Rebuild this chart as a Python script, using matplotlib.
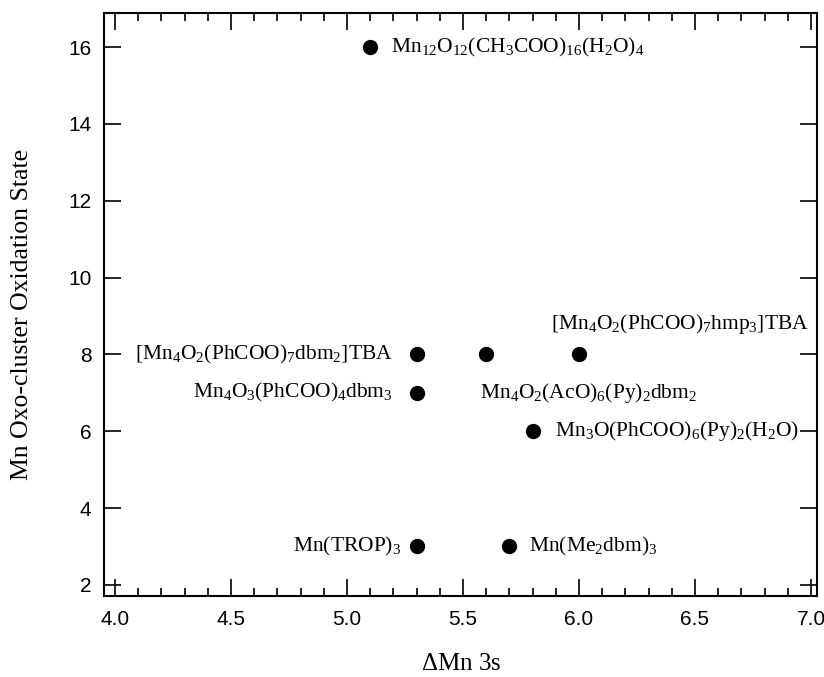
import matplotlib
matplotlib.use("Agg")
import matplotlib.pyplot as plt
from matplotlib.ticker import MultipleLocator

plt.rcParams['font.family'] = ['Liberation Serif', 'DejaVu Serif']
plt.rcParams['mathtext.fontset'] = 'custom'
plt.rcParams['mathtext.rm'] = 'Liberation Serif'
plt.rcParams['mathtext.it'] = 'Liberation Serif'

# data: Mn 3s splitting vs oxidation state of the cluster
delta_mn3s = [5.1, 5.3, 5.6, 6.0, 5.3, 5.8, 5.3, 5.7]
ox_state = [16, 8, 8, 8, 7, 6, 3, 3]
names = [
    r'Mn$_{12}$O$_{12}$(CH$_{3}$COO)$_{16}$(H$_{2}$O)$_{4}$',
    r'[Mn$_{4}$O$_{2}$(PhCOO)$_{7}$dbm$_{2}$]TBA',
    None,
    r'[Mn$_{4}$O$_{2}$(PhCOO)$_{7}$hmp$_{3}$]TBA',
    r'Mn$_{4}$O$_{3}$(PhCOO)$_{4}$dbm$_{3}$',
    r'Mn$_{3}$O(PhCOO)$_{6}$(Py)$_{2}$(H$_{2}$O)',
    r'Mn(TROP)$_{3}$',
    r'Mn(Me$_{2}$dbm)$_{3}$',
]
# extra label not tied to a single point
extra_name = r'Mn$_{4}$O$_{2}$(AcO)$_{6}$(Py)$_{2}$dbm$_{2}$'

# label placement: (dx, dy) in points from the point, horizontal alignment
offsets = [(15, 0, 'left'), (-17, 0, 'right'), None, (166, 22, 'right'),
           (-17, 0, 'right'), (16, 0, 'left'), (-11, 0, 'right'), (14, 0, 'left')]

fig = plt.figure(figsize=(8.24, 6.77), dpi=100)
ax = fig.add_axes([0.1262, 0.1196, 0.8653, 0.8612])

ax.plot(delta_mn3s, ox_state, 'o', color='black', markersize=10)

for x, y, name, off in zip(delta_mn3s, ox_state, names, offsets):
    if name is None:
        continue
    dx, dy, ha = off
    ax.annotate(name, (x, y), xytext=(dx, dy), textcoords='offset points',
                ha=ha, va='center', fontsize=15.5)

ax.annotate(extra_name, (5.573, 7), ha='left', va='center', fontsize=15.5)

ax.set_xlim(3.953, 7.026)
ax.set_ylim(1.71, 16.885)
ax.xaxis.set_major_locator(MultipleLocator(0.5))
ax.xaxis.set_minor_locator(MultipleLocator(0.1))
ax.yaxis.set_major_locator(MultipleLocator(2))
ax.xaxis.set_major_formatter(matplotlib.ticker.FormatStrFormatter('%.1f'))

ax.tick_params(which='both', direction='in', top=True, right=True, width=1.2,
               labelfontfamily='Liberation Sans', labelsize=15)
ax.tick_params(which='major', length=12)
ax.tick_params(which='minor', length=6)
ax.tick_params(axis='x', pad=10)
ax.tick_params(axis='y', pad=9)
for s in ax.spines.values():
    s.set_linewidth(1.5)

fig.text(0.027, 0.535, 'Mn Oxo-cluster Oxidation State', rotation=90,
         ha='center', va='center', fontsize=18.5)
fig.text(0.56, 0.003, r'$\Delta$Mn 3s', ha='center', va='bottom', fontsize=18)

fig.savefig('out.png', dpi=100)
